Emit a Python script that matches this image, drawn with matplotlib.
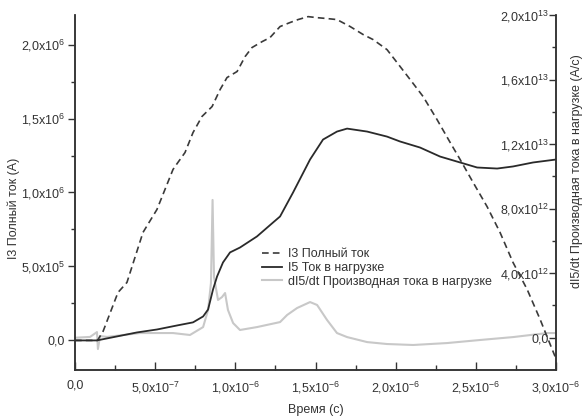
import matplotlib
matplotlib.use("Agg")
import matplotlib.pyplot as plt
from matplotlib.lines import Line2D

plt.rcParams['font.family'] = ['Liberation Sans', 'DejaVu Sans']
plt.rcParams['mathtext.fontset'] = 'custom'
plt.rcParams['mathtext.rm'] = 'Liberation Sans'
plt.rcParams['mathtext.it'] = 'Liberation Sans'

# ---- data (time in microseconds, I in MA, dI/dt in 1e12 A/s) ----
t_i3 = [0.0, 0.14, 0.175, 0.268, 0.324, 0.424, 0.511, 0.611, 0.624, 0.686, 0.736, 0.792,
        0.855, 0.905, 0.948, 1.011, 1.061, 1.104, 1.167, 1.216, 1.279, 1.341, 1.391,
        1.454, 1.510, 1.572, 1.634, 1.716, 1.797, 1.859, 1.946, 2.009, 2.090, 2.171,
        2.258, 2.340, 2.402, 2.483, 2.570, 2.651, 2.732, 2.820, 2.901, 2.951, 2.994]
i3 = [0.0, 0.0, 0.061, 0.324, 0.392, 0.730, 0.885, 1.155, 1.176, 1.270, 1.405, 1.514,
      1.581, 1.696, 1.777, 1.818, 1.919, 1.980, 2.020, 2.047, 2.122, 2.149, 2.169,
      2.189, 2.182, 2.176, 2.169, 2.122, 2.068, 2.034, 1.966, 1.878, 1.764, 1.649,
      1.493, 1.338, 1.223, 1.068, 0.905, 0.730, 0.527, 0.345, 0.142, 0.007, -0.108]

t_i5 = [0.0, 0.137, 0.262, 0.387, 0.512, 0.636, 0.736, 0.799, 0.830, 0.861, 0.886, 0.923,
        0.967, 1.029, 1.135, 1.235, 1.279, 1.360, 1.466, 1.547, 1.634, 1.697, 1.822,
        1.946, 2.027, 2.152, 2.277, 2.402, 2.508, 2.633, 2.732, 2.857, 3.0]
i5 = [0.0, 0.0, 0.027, 0.054, 0.074, 0.101, 0.122, 0.162, 0.209, 0.345, 0.432, 0.527,
      0.595, 0.628, 0.703, 0.797, 0.838, 1.000, 1.223, 1.358, 1.412, 1.432, 1.412,
      1.378, 1.345, 1.304, 1.243, 1.203, 1.169, 1.162, 1.176, 1.203, 1.223]

t_di5 = [0.0, 0.094, 0.137, 0.143, 0.156, 0.200, 0.405, 0.611, 0.717, 0.799, 0.830,
         0.848, 0.858, 0.867, 0.892, 0.917, 0.936, 0.954, 0.986, 1.029, 1.135, 1.279,
         1.323, 1.385, 1.466, 1.510, 1.572, 1.634, 1.697, 1.822, 1.946, 2.109, 2.321,
         2.527, 2.732, 2.945, 3.0]
di5 = [0.0, 0.05, 0.35, -0.70, 0.10, 0.05, 0.29, 0.29, 0.17, 0.66, 1.72,
       3.39, 8.54, 3.76, 2.34, 2.52, 2.77, 1.72, 0.91, 0.48, 0.66, 0.97,
       1.41, 1.84, 2.21, 2.03, 1.10, 0.29, 0.04, -0.27, -0.39, -0.45, -0.33,
       -0.14, 0.04, 0.29, 0.29]

x_ticks = [0.0, 0.5, 1.0, 1.5, 2.0, 2.5, 3.0]
x_labels = ['0,0', r'5,0x10$^{-7}$', r'1,0x10$^{-6}$', r'1,5x10$^{-6}$',
            r'2,0x10$^{-6}$', r'2,5x10$^{-6}$', r'3,0x10$^{-6}$']
yl_ticks = [0.0, 0.5, 1.0, 1.5, 2.0]
yl_labels = ['0,0', r'5,0x10$^{5}$', r'1,0x10$^{6}$', r'1,5x10$^{6}$', r'2,0x10$^{6}$']
yr_ticks = [0, 4, 8, 12, 16, 20]
yr_labels = ['0,0', r'4,0x10$^{12}$', r'8,0x10$^{12}$', r'1,2x10$^{13}$',
             r'1,6x10$^{13}$', r'2,0x10$^{13}$']

label_i3 = 'I3 Полный ток'
label_i5 = 'I5 Ток в нагрузке'
label_di5 = 'dI5/dt Производная тока в нагрузке'

txt = '#333333'
fs = 9
fig = plt.figure(figsize=(5.84, 4.2), dpi=100)
ax = fig.add_axes([75/584, 1-370/420, (556-75)/584, (370-15)/420])
ax2 = ax.twinx()

c_grey = '#c8c8c8'
ax2.plot(t_di5, di5, color=c_grey, lw=1.5, zorder=1)
ax.plot(t_i3, i3, color='#3a3a3a', lw=1.2, ls=(0, (4, 2.5)))
ax.plot(t_i5, i5, color='#2a2a2a', lw=1.3)
ax.set_zorder(2)
ax.patch.set_visible(False)

ax.set_xlim(0, 3.0)
ax.set_ylim(-0.2, 2.2)
ax2.set_ylim(-2, 20)

for a in (ax, ax2):
    for s in a.spines.values():
        s.set_color('#333333')
        s.set_linewidth(1.1)
    a.spines['top'].set_visible(False)

ax.set_xticks(x_ticks)
ax.set_xticklabels(x_labels)
ax.set_xticks([0.25, 0.75, 1.25, 1.75, 2.25, 2.75], minor=True)
ax.set_yticks(yl_ticks)
ax.set_yticklabels(yl_labels)
ax.set_yticks([0.25, 0.75, 1.25, 1.75], minor=True)
ax2.set_yticks(yr_ticks)
ax2.set_yticklabels(yr_labels)
ax2.set_yticks([2, 6, 10, 14, 18], minor=True)

ax.tick_params(axis='x', which='major', direction='in', length=6, width=1, colors='#333333',
               labelcolor=txt, labelsize=fs, pad=7)
ax.tick_params(axis='x', which='minor', direction='in', length=3.5, width=1, colors='#333333')
ax.tick_params(axis='y', which='major', direction='out', length=5, width=1, colors='#333333',
               labelcolor=txt, labelsize=fs, pad=2)
ax.tick_params(axis='y', which='minor', direction='out', length=3, width=1, colors='#333333')
ax2.tick_params(axis='y', which='major', direction='in', length=5, width=1, colors='#333333',
                labelcolor=txt, labelsize=fs, pad=-5, labelleft=False, labelright=True)
ax2.tick_params(axis='y', which='minor', direction='in', length=3, width=1, colors='#333333')

ax.set_xlabel('Время (с)', fontsize=fs, color=txt)
ax.xaxis.set_label_coords(0.5, -0.095)
ax.set_ylabel('I3 Полный ток (А)', fontsize=fs, color=txt, va='center')
ax.yaxis.set_label_coords((14-75)/481, 0.456)
ax2.set_ylabel('dI5/dt Производная тока в нагрузке (А/с)', fontsize=fs, color=txt,
               va='center', rotation=90)
ax2.yaxis.set_label_coords((577-75)/481, 0.56)

handles = [Line2D([], [], color='#3a3a3a', lw=1.2, ls=(0, (4, 2.5))),
           Line2D([], [], color='#2a2a2a', lw=1.3),
           Line2D([], [], color=c_grey, lw=1.5)]
fig.legend(handles, [label_i3, label_i5, label_di5], loc='upper left',
           bbox_to_anchor=(262/584, 1-248/420), bbox_transform=fig.transFigure,
           frameon=False, fontsize=fs, handlelength=1.6, handletextpad=0.5,
           labelspacing=0.15, borderpad=0, borderaxespad=0, labelcolor=txt)

for lbl in ax2.get_yticklabels():
    lbl.set_horizontalalignment('right')

fig.savefig('out.png', dpi=100)
